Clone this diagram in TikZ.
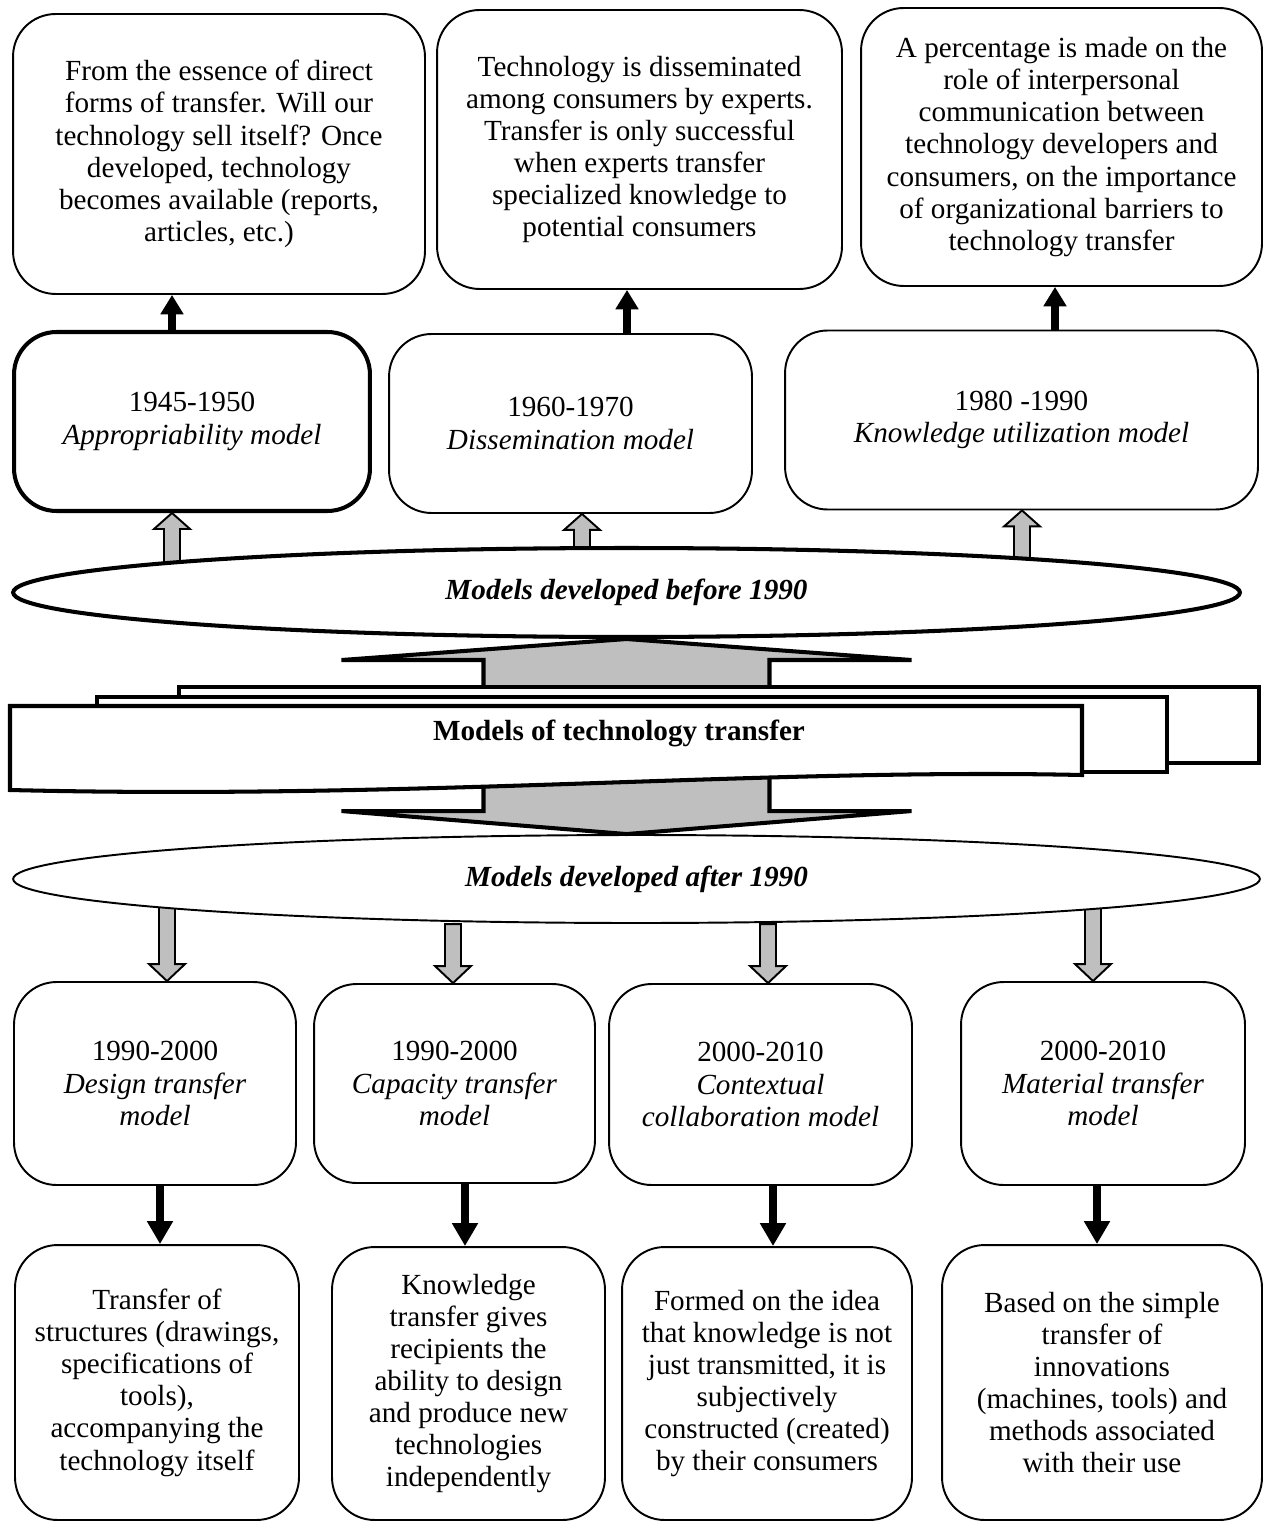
\documentclass[tikz,border=0pt]{standalone}
\usepackage{fontspec}
\setmainfont{Liberation Serif}
\usetikzlibrary{shapes.geometric,arrows.meta}

\begin{document}
\begin{tikzpicture}[x=0.02cm,y=-0.02cm,
  font=\fontsize{16.6}{18.3}\selectfont,
  box/.style={draw,line width=1.1pt,rounded corners=0.85cm,align=center,fill=white},
  model/.style={box,minimum height=3.58cm},
  blackarrow/.style={line width=4.5pt,-{Triangle[width=12.5pt,length=11pt]}},
  blackarrowb/.style={line width=5pt,-{Triangle[width=14pt,length=13pt]}},
  grayarrow/.style={draw,line width=1.1pt,fill=black!25},
  bigarrow/.style={draw,line width=2.3pt,fill=black!25},
  stack/.style={draw,line width=2.3pt,fill=white}]

\useasboundingbox (0,0) rectangle (1266,1523);

% Descriptions of the early models
\node[box,minimum width=8.24cm,minimum height=5.6cm] (t1) at (219,154)
  {From the essence of direct\\forms of transfer. Will our\\technology sell itself? Once\\developed, technology\\becomes available (reports,\\articles, etc.)};
\node[box,minimum width=8.1cm,minimum height=5.58cm] (t2) at (639.5,149.5)
  {Technology is disseminated\\among consumers by experts.\\Transfer is only successful\\when experts transfer\\specialized knowledge to\\potential consumers};
\node[box,minimum width=8.02cm,minimum height=5.56cm] (t3) at (1061.5,147)
  {A percentage is made on the\\role of interpersonal\\communication between\\technology developers and\\consumers, on the importance\\of organizational barriers to\\technology transfer};

% Models before 1990
\node[model,line width=2.3pt,minimum width=7.12cm] (m1) at (192,421.5) {1945-1950\\\textit{Appropriability model}};
\node[model,minimum width=7.26cm] (m2) at (570.5,423.5) {1960-1970\\\textit{Dissemination model}};
\node[model,minimum width=9.46cm] (m3) at (1021.5,420) {1980 -1990\\\textit{Knowledge utilization model}};

% Models after 1990
\node[box,minimum width=5.64cm,minimum height=4.06cm] (b1) at (155,1083.5) {1990-2000\\\textit{Design transfer}\\\textit{model}};
\node[box,minimum width=5.62cm,minimum height=3.98cm] (b2) at (454.5,1083.5) {1990-2000\\\textit{Capacity transfer}\\\textit{model}};
\node[box,minimum width=6.06cm,minimum height=4.02cm] (b3) at (760.5,1084.5) {2000-2010\\\textit{Contextual}\\\textit{collaboration model}};
\node[box,minimum width=5.68cm,minimum height=4.06cm] (b4) at (1103,1083.5) {2000-2010\\\textit{Material transfer}\\\textit{model}};

% Descriptions of the later models
\node[box,minimum width=5.68cm,minimum height=5.5cm] (c1) at (157,1382.5)
  {Transfer of\\structures (drawings,\\specifications of\\tools),\\accompanying the\\technology itself};
\node[box,minimum width=5.46cm,minimum height=5.46cm] (c2) at (468.5,1383.5)
  {Knowledge\\transfer gives\\recipients the\\ability to design\\and produce new\\technologies\\independently};
\node[box,minimum width=5.8cm,minimum height=5.46cm] (c3) at (767,1383.5)
  {Formed on the idea\\that knowledge is not\\just transmitted, it is\\subjectively\\constructed (created)\\by their consumers};
\node[box,minimum width=6.4cm,minimum height=5.5cm] (c4) at (1102,1382.5)
  {Based on the simple\\transfer of\\innovations\\(machines, tools) and\\methods associated\\with their use};

% Black arrows
\foreach \m/\t/\x in {m1/t1/172,m2/t2/627,m3/t3/1055}
  \draw[blackarrow] (\m.north -| \x,0) -- (\t.south -| \x,0);
\foreach \b/\c/\x in {b1/c1/160,b2/c2/465,b3/c3/773,b4/c4/1097}
  \draw[blackarrowb] (\b.south -| \x,0) -- (\c.north -| \x,0);

% Gray arrows (tails go under the ellipses)
\foreach \m/\x in {m1/172,m2/582,m3/1022}
  \draw[grayarrow] (\m.south -| \x,0) -- ++(18,16) -- ++(-10,0) -- ++(0,60)
    -- ++(-16,0) -- ++(0,-60) -- ++(-10,0) -- cycle;
\foreach \b/\x/\l in {b1/167/70,b2/453/42,b3/768/42,b4/1093/70}
  \draw[grayarrow] (\b.north -| \x,0) -- ++(18,-17) -- ++(-10,0) -- ++(0,-\l)
    -- ++(-16,0) -- ++(0,\l) -- ++(-10,0) -- cycle;

% Ellipses
\node[draw,ellipse,line width=2.3pt,fill=white,minimum width=24.54cm,minimum height=1.78cm,
  font=\fontsize{16.6}{18.3}\selectfont\bfseries\itshape] (e1) at (626.5,592.5) {Models developed before 1990};
\node[draw,ellipse,line width=1.1pt,fill=white,minimum width=24.94cm,minimum height=1.76cm,
  font=\fontsize{16.6}{18.3}\selectfont\bfseries\itshape] (e2) at (636.5,879) {Models developed after 1990};

% Big arrows
\draw[bigarrow] (e1.south) -- ++(285,21) -- ++(-142,0) -- ++(0,40)
  -- ++(-286,0) -- ++(0,-40) -- ++(-142,0) -- cycle;
\draw[bigarrow] (e1.south |- e2.north) -- ++(285,-23) -- ++(-142,0) -- ++(0,-45)
  -- ++(-286,0) -- ++(0,45) -- ++(-142,0) -- cycle;

% Stacked title boxes
\draw[stack] (179,687) rectangle (1259,763);
\draw[stack] (97,697) rectangle (1167,772);
\draw[stack] (10,706) -- (1082,706) -- (1082,775)
  .. controls (760,768) and (420,800) .. (10,790) -- cycle;
\node[font=\fontsize{16.6}{18.3}\selectfont\bfseries] (mt) at (619,733) {Models of technology transfer};

\end{tikzpicture}
\end{document}
